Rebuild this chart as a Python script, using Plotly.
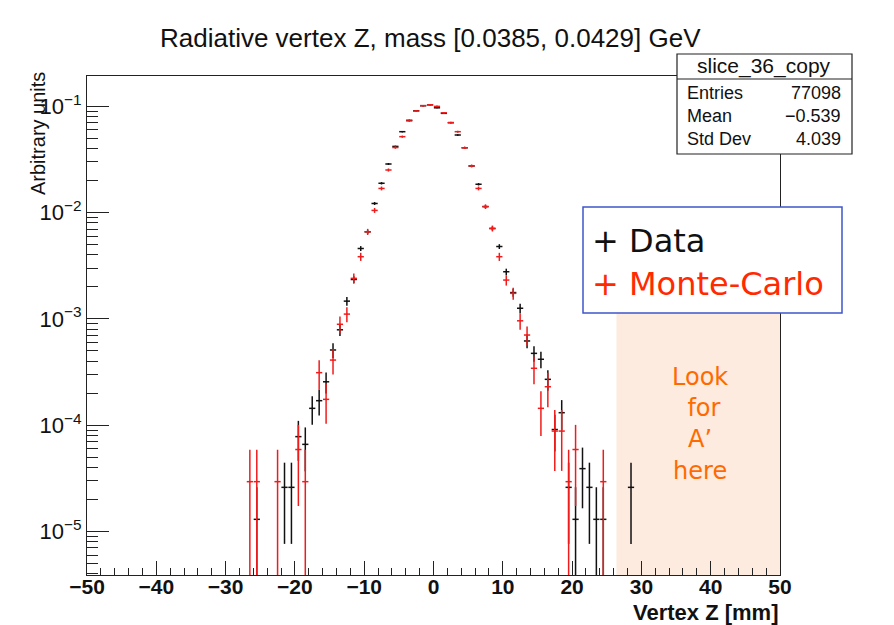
import math
import plotly.graph_objects as go

# Bin centres (1 mm bins) and normalised contents, data sample
data_z = [-25.5, -21.5, -20.5, -19.5, -18.5, -17.5, -16.5, -15.5, -14.5, -13.5,
          -12.5, -11.5, -10.5, -9.5, -8.5, -7.5, -6.5, -5.5, -4.5, -3.5,
          -2.5, -1.5, -0.5, 0.5, 1.5, 2.5, 3.5, 4.5, 5.5, 6.5,
          7.5, 8.5, 9.5, 10.5, 11.5, 12.5, 13.5, 14.5, 15.5, 16.5,
          17.5, 18.5, 19.5, 20.5, 21.5, 22.5, 23.5, 24.5, 28.5]
data_y = [1.3e-5, 2.6e-5, 2.6e-5, 7.8e-5, 6.6e-5, 1.44e-4, 1.70e-4, 2.56e-4, 5.1e-4, 7.9e-4,
          1.47e-3, 2.35e-3, 4.6e-3, 6.6e-3, 1.22e-2, 1.89e-2, 2.87e-2, 4.2e-2, 5.78e-2, 7.4e-2,
          9.1e-2, 0.1015, 0.1035, 0.097, 0.086, 0.0703, 0.0538, 0.0408, 0.0275, 0.0185,
          0.0114, 7.1e-3, 4.8e-3, 2.78e-3, 1.77e-3, 1.26e-3, 6.2e-4, 4.74e-4, 4.17e-4, 2.70e-4,
          9.1e-5, 1.31e-4, 2.6e-5, 1.3e-5, 3.9e-5, 2.6e-5, 1.3e-5, 1.3e-5, 2.6e-5]

# Monte-Carlo sample
mc_z = [-26.5, -25.5, -22.5, -19.5, -18.5, -16.5, -15.5, -14.5, -13.5, -12.5,
        -11.5, -10.5, -9.5, -8.5, -7.5, -6.5, -5.5, -4.5, -3.5, -2.5,
        -1.5, -0.5, 0.5, 1.5, 2.5, 3.5, 4.5, 5.5, 6.5, 7.5,
        8.5, 9.5, 10.5, 11.5, 12.5, 13.5, 14.5, 15.5, 16.5, 17.5,
        18.5, 19.5, 20.5, 24.5]
mc_y = [2.94e-5, 2.94e-5, 2.94e-5, 5.9e-5, 2.94e-5, 3.12e-4, 1.75e-4, 4.1e-4, 8.9e-4, 1.11e-3,
        2.41e-3, 3.85e-3, 6.6e-3, 1.05e-2, 1.69e-2, 2.52e-2, 4.1e-2, 5.19e-2, 7.3e-2, 9.05e-2,
        0.1016, 0.1035, 0.100, 0.087, 0.0703, 0.0578, 0.0408, 0.0275, 0.0169, 0.0114,
        7.1e-3, 3.85e-3, 2.32e-3, 1.74e-3, 9.6e-4, 7.05e-4, 3.43e-4, 1.44e-4, 2.3e-4, 8.8e-5,
        8.8e-5, 2.94e-5, 5.9e-5, 2.94e-5]

# Weight of one entry in each normalised histogram (Poisson errors)
data_entries = 77098
data_weight = 1.0 / data_entries
mc_weight = 2.94e-5

stats_rows = [("Entries", "77098"), ("Mean", "\u22120.539"), ("Std Dev", "4.039")]
signal_region = [26.4, 50]

y_major = [1e-5, 1e-4, 1e-3, 1e-2, 1e-1]
y_major_text = ["10<sup>\u22125</sup>", "10<sup>\u22124</sup>", "10<sup>\u22123</sup>",
                "10<sup>\u22122</sup>", "10<sup>\u22121</sup>"]
y_minor = [m * 10.0 ** e for e in range(-6, 0) for m in range(2, 10)]


def poisson_errors(vals, w):
    up, down = [], []
    for v in vals:
        e = math.sqrt(v * w)
        up.append(e)
        down.append(min(e, v * 0.999))
    return up, down


def hist_trace(z, y, w, color, name):
    up, down = poisson_errors(y, w)
    return go.Scatter(
        x=z, y=y, mode="markers", name=name,
        marker=dict(size=1, color=color),
        error_y=dict(type="data", array=up, arrayminus=down, symmetric=False,
                     color=color, thickness=1.5, width=0),
        error_x=dict(type="constant", value=0.45, color=color, thickness=1.5, width=0),
        showlegend=False,
    )


BLACK = "#111111"
RED = "#f01c1c"

fig = go.Figure()
fig.add_trace(hist_trace(data_z, data_y, data_weight, BLACK, "Data"))
fig.add_trace(hist_trace(mc_z, mc_y, mc_weight, RED, "Monte-Carlo"))

# plot area in pixels: x 87..780, y 76..575
L, R, T, B = 87, 780, 76, 575
W, H = R - L, B - T


def px(xp):
    return (xp - L) / W


def py(yp):
    return (B - yp) / H


ROOT_FONT = "Liberation Sans, Arial, Helvetica, sans-serif"

shapes = [
    # signal search window
    dict(type="rect", xref="x", yref="paper", x0=signal_region[0], x1=signal_region[1],
         y0=0, y1=py(313), fillcolor="#fdebe0", line=dict(width=0), layer="below"),
    # legend box
    dict(type="rect", xref="paper", yref="paper", x0=px(583), x1=px(842),
         y0=py(313), y1=py(207), fillcolor="white", line=dict(color="#3f56cc", width=1.5),
         layer="above"),
    # statistics box
    dict(type="rect", xref="paper", yref="paper", x0=px(677), x1=px(852),
         y0=py(154), y1=py(54), fillcolor="white", line=dict(color="#222222", width=1.2),
         layer="above"),
    dict(type="line", xref="paper", yref="paper", x0=px(677), x1=px(852),
         y0=py(79), y1=py(79), line=dict(color="#222222", width=1.2), layer="above"),
]

annotations = [
    dict(text="Radiative vertex Z, mass [0.0385, 0.0429] GeV", xref="paper", yref="paper",
         x=px(430), y=py(38), xanchor="center", yanchor="middle", showarrow=False,
         font=dict(family=ROOT_FONT, size=26, color="#111111")),
    dict(text="Arbitrary units", xref="paper", yref="paper", x=px(38), y=py(134),
         xanchor="center", yanchor="middle", textangle=-90, showarrow=False,
         font=dict(family=ROOT_FONT, size=20, color="#111111")),
    dict(text="<b>Vertex Z [mm]</b>", xref="paper", yref="paper", x=px(781), y=py(612),
         xanchor="right", yanchor="middle", showarrow=False,
         font=dict(family=ROOT_FONT, size=22, color="#111111")),
    dict(text="slice_36_copy", xref="paper", yref="paper", x=px(764), y=py(66),
         xanchor="center", yanchor="middle", showarrow=False,
         font=dict(family=ROOT_FONT, size=21, color="#111111")),
    dict(text="+ Data", xref="paper", yref="paper", x=px(590), y=py(241),
         xanchor="left", yanchor="middle", showarrow=False,
         font=dict(family="DejaVu Sans", size=32, color="#111111")),
    dict(text="+ Monte-Carlo", xref="paper", yref="paper", x=px(590), y=py(284),
         xanchor="left", yanchor="middle", showarrow=False,
         font=dict(family="DejaVu Sans", size=32, color="#ff2a00")),
    dict(text="Look<br> for<br>A\u2019<br>here", xref="paper", yref="paper", x=px(700),
         y=py(424), xanchor="center", yanchor="middle", showarrow=False,
         font=dict(family="DejaVu Sans", size=24, color="#ff6a00")),
]

for i, (lab, val) in enumerate(stats_rows):
    yy = [93, 116, 139][i]
    annotations.append(dict(text=lab, xref="paper", yref="paper", x=px(685), y=py(yy),
                            xanchor="left", yanchor="middle", showarrow=False,
                            font=dict(family=ROOT_FONT, size=18, color="#111111")))
    annotations.append(dict(text=val, xref="paper", yref="paper", x=px(843), y=py(yy),
                            xanchor="right", yanchor="middle", showarrow=False,
                            font=dict(family=ROOT_FONT, size=18, color="#111111")))

fig.update_layout(
    width=894, height=625,
    margin=dict(l=L, r=894 - R, t=T, b=625 - B, pad=0),
    paper_bgcolor="white", plot_bgcolor="white",
    shapes=shapes, annotations=annotations,
    xaxis=dict(
        range=[-50, 50], tick0=-50, dtick=10, ticks="inside", ticklen=14, tickwidth=1,
        tickcolor="#222222", showline=True, linecolor="#222222", linewidth=1.2, mirror=True,
        showgrid=False, zeroline=False,
        minor=dict(dtick=2, ticks="inside", ticklen=7, tickwidth=1, tickcolor="#222222"),
        tickfont=dict(family=ROOT_FONT, size=21, color="#111111", weight="bold"),
        ticklabelstandoff=-7,
    ),
    yaxis=dict(
        type="log", range=[-5.41, -0.714], tickvals=y_major, ticktext=y_major_text,
        ticks="inside", ticklen=22, tickwidth=1, tickcolor="#222222",
        showline=True, linecolor="#222222", linewidth=1.2, mirror=True,
        showgrid=False, zeroline=False,
        minor=dict(tickvals=y_minor, ticks="inside", ticklen=11, tickwidth=1,
                   tickcolor="#222222"),
        tickfont=dict(family=ROOT_FONT, size=22, color="#111111"),
        ticklabelstandoff=0,
    ),
)

fig.write_html("out.html")
